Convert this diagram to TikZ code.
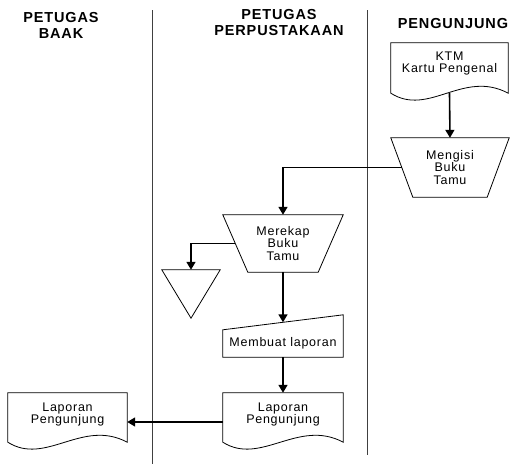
\documentclass[tikz,border=0pt]{standalone}
\usepackage{fontspec}
\setmainfont{Liberation Sans}[LetterSpace=6]
\usetikzlibrary{arrows.meta}

% outlines drawn around the (invisible) named nodes
\newcommand\docoutline[1]{%
  \draw[outline] (#1.north west) -- (#1.north east) -- (#1.south east)
    .. controls +(-45,-24) and +(38,24) .. (#1.south west) -- cycle;}
\newcommand\trapoutline[2]{%
  \draw[outline] (#1.north west) -- (#1.north east)
    -- ([xshift=-#2pt]#1.south east) -- ([xshift=#2pt]#1.south west) -- cycle;}
\newcommand\inputoutline[2]{%
  \draw[outline] (#1.north west) -- ([yshift=#2pt]#1.north east)
    -- (#1.south east) -- (#1.south west) -- cycle;}
\newcommand\mergeoutline[1]{%
  \draw[outline] (#1.north west) -- (#1.north east) -- (#1.south) -- cycle;}

\begin{document}
\begin{tikzpicture}[x=1pt,y=-1pt,
  outline/.style={draw=black, line width=0.8pt},
  lane/.style={draw=black!75, line width=0.8pt},
  flow/.style={line width=1.6pt, -{Triangle[length=8pt,width=9pt]}},
  shapebox/.style={draw=none, inner sep=0pt, align=center,
    font=\fontsize{12.5}{12.5}\selectfont},
  header/.style={align=center, inner sep=0pt,
    font=\fontsize{14.5}{16}\selectfont\bfseries}
]
\fill[white] (0,0) rectangle (512,464);
\useasboundingbox (0,0) rectangle (512,464);

% swimlane headers
\node[header] (hbaak)   at (61,25)  {PETUGAS\\BAAK};
\node[header] (hperpus) at (279,23) {PETUGAS\\PERPUSTAKAAN};
\node[header] (hpeng)   at (453,24) {PENGUNJUNG};

% swimlane separators
\coordinate (laneAtop) at (152,10);
\coordinate (laneAbot) at (152,464);
\coordinate (laneBtop) at (367,10);
\coordinate (laneBbot) at (367,455);
\draw[lane] (laneAtop) -- (laneAbot);
\draw[lane] (laneBtop) -- (laneBbot);

% process nodes
\node[shapebox, minimum width=117pt, minimum height=50pt, text depth=11.6pt]
  (ktm) at (449.5,68) {KTM\\Kartu Pengenal};
\node[shapebox, minimum width=118pt, minimum height=59pt]
  (mengisi) at (450,167.5) {Mengisi\\Buku\\Tamu};
\node[shapebox, minimum width=120pt, minimum height=57pt]
  (merekap) at (283,243.5) {Merekap\\Buku\\Tamu};
\node[shapebox, minimum width=58pt, minimum height=48pt]
  (arsip) at (191,294) {};
\node[shapebox, minimum width=120pt, minimum height=27pt]
  (membuat) at (283,343.5) {Membuat laporan};
\node[shapebox, minimum width=120pt, minimum height=49pt, text depth=8.6pt]
  (lapkanan) at (283,417.5) {Laporan\\Pengunjung};
\node[shapebox, minimum width=119pt, minimum height=49pt, text depth=8.6pt]
  (lapkiri) at (67.5,417.5) {Laporan\\Pengunjung};

% shape outlines
\docoutline{ktm}
\trapoutline{mengisi}{22}
\trapoutline{merekap}{25}
\mergeoutline{arsip}
\inputoutline{membuat}{15}
\docoutline{lapkanan}
\docoutline{lapkiri}

% flow
\draw[flow] (ktm.south) -- (mengisi.north);
\draw[flow] ([xshift=11pt]mengisi.west) -| (merekap.north);
\draw[flow] ([xshift=12.5pt]merekap.west) -| (arsip.north);
\draw[flow] (merekap.south) -- ([yshift=7.5pt]membuat.north);
\draw[flow] (membuat.south) -- (lapkanan.north);
\draw[flow] ([yshift=-4.5pt]lapkanan.west) -- ([yshift=-4.5pt]lapkiri.east);
\end{tikzpicture}
\end{document}
